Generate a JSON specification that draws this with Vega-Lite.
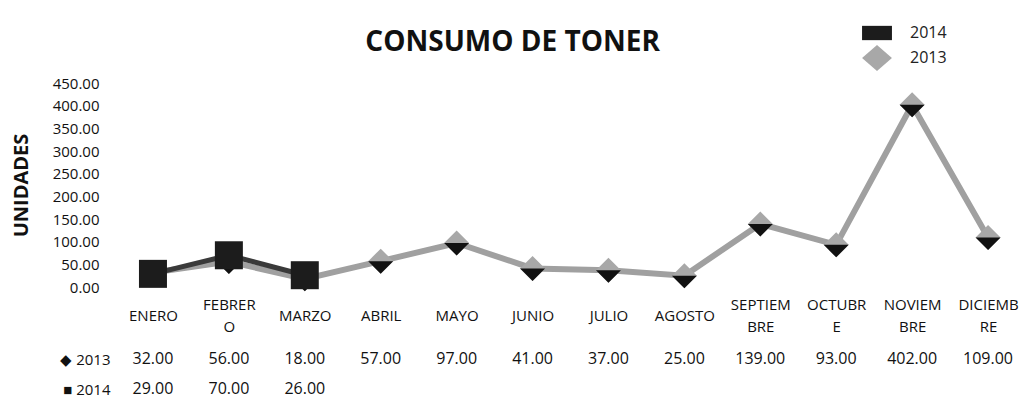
{
  "$schema": "https://vega.github.io/schema/vega-lite/v6.json",
  "background": "white",
  "padding": {"left": 11, "right": 2, "top": 20, "bottom": 0},
  "config": {
    "font": "Open Sans",
    "view": {"stroke": null},
    "axis": {"grid": false, "domain": false, "ticks": false, "labelColor": "#111", "titleColor": "#111"}
  },
  "title": {"text": "CONSUMO DE TONER", "fontSize": 28, "fontWeight": "bold", "color": "#111", "anchor": "middle", "offset": -37, "dx": -6},
  "datasets": {
    "d": [
      {"mes": "ENERO", "year": "2013", "value": 32},
      {"mes": "FEBRERO", "year": "2013", "value": 56},
      {"mes": "MARZO", "year": "2013", "value": 18},
      {"mes": "ABRIL", "year": "2013", "value": 57},
      {"mes": "MAYO", "year": "2013", "value": 97},
      {"mes": "JUNIO", "year": "2013", "value": 41},
      {"mes": "JULIO", "year": "2013", "value": 37},
      {"mes": "AGOSTO", "year": "2013", "value": 25},
      {"mes": "SEPTIEMBRE", "year": "2013", "value": 139},
      {"mes": "OCTUBRE", "year": "2013", "value": 93},
      {"mes": "NOVIEMBRE", "year": "2013", "value": 402},
      {"mes": "DICIEMBRE", "year": "2013", "value": 109},
      {"mes": "ENERO", "year": "2014", "value": 29},
      {"mes": "FEBRERO", "year": "2014", "value": 70},
      {"mes": "MARZO", "year": "2014", "value": 26}
    ]
  },
  "spacing": 10,
  "resolve": {"legend": {"color": "independent", "shape": "independent"}},
  "vconcat": [
    {
      "width": 911,
      "height": 204,
      "data": {"name": "d"},
      "encoding": {
        "x": {
          "field": "mes", "type": "nominal",
          "sort": ["ENERO","FEBRERO","MARZO","ABRIL","MAYO","JUNIO","JULIO","AGOSTO","SEPTIEMBRE","OCTUBRE","NOVIEMBRE","DICIEMBRE"],
          "axis": {
            "title": null, "labelAngle": 0, "labelBaseline": "middle", "labelLineHeight": 22, "labelFontSize": 15,
            "labelPadding": {"condition": {"test": "indexof(['FEBRERO','SEPTIEMBRE','OCTUBRE','NOVIEMBRE','DICIEMBRE'], datum.value) >= 0", "value": 17}, "value": 28},
            "labelExpr": "datum.value == 'FEBRERO' ? ['FEBRER','O'] : datum.value == 'SEPTIEMBRE' ? ['SEPTIEM','BRE'] : datum.value == 'OCTUBRE' ? ['OCTUBR','E'] : datum.value == 'NOVIEMBRE' ? ['NOVIEM','BRE'] : datum.value == 'DICIEMBRE' ? ['DICIEMB','RE'] : datum.value"
          }
        },
        "y": {
          "field": "value", "type": "quantitative",
          "scale": {"domain": [0, 450], "nice": false},
          "axis": {"title": "UNIDADES", "format": ".2f", "values": [0,50,100,150,200,250,300,350,400,450], "labelPadding": 16, "labelFontSize": 15, "titleFontSize": 20, "titleFontWeight": "bold", "titlePadding": 21}
        }
      },
      "layer": [
        {
          "transform": [{"filter": "datum.year == '2013'"}],
          "mark": {"type": "line", "color": "#a0a0a0", "strokeWidth": 6}
        },
        {
          "transform": [{"filter": "datum.year == '2014'"}],
          "mark": {"type": "line", "color": "#3a3a3a", "strokeWidth": 5}
        },
        {
          "transform": [{"filter": "datum.year == '2013'"}],
          "mark": {"type": "point", "filled": true, "opacity": 1, "shape": "diamond", "size": 625, "color": "#a8a8a8"}
        },
        {
          "transform": [{"filter": "datum.year == '2013'"}],
          "mark": {"type": "point", "filled": true, "opacity": 1, "shape": "M-1,0L1,0L0,1Z", "size": 625, "color": "#111"}
        },
        {
          "transform": [{"filter": "datum.year == '2014'"}],
          "mark": {"type": "point", "filled": true, "opacity": 1, "shape": "square", "size": 784, "color": "#1c1c1c"}
        },
        {
          "transform": [{"filter": "datum.year == 'none'"}],
          "mark": {"type": "point", "filled": true, "opacity": 1},
          "encoding": {
            "color": {
              "field": "year", "type": "nominal",
              "scale": {"domain": ["2014", "2013"], "range": ["#1c1c1c", "#a8a8a8"]},
              "legend": {"title": null, "orient": "none", "legendX": 749, "legendY": -63, "symbolSize": 676, "labelFontSize": 16, "labelOffset": 20, "padding": 0, "rowPadding": 4, "labelColor": "#222", "symbolStrokeWidth": 0}
            },
            "shape": {
              "field": "year", "type": "nominal",
              "scale": {"domain": ["2014", "2013"], "range": ["M-1.15,-0.55L1.15,-0.55L1.15,0.55L-1.15,0.55Z", "M-1.15,0L0,-1L1.15,0L0,1Z"]},
              "legend": {"title": null, "orient": "none", "legendX": 749, "legendY": -63, "symbolSize": 676, "labelFontSize": 16, "labelOffset": 20, "padding": 0, "rowPadding": 4, "labelColor": "#222", "symbolStrokeWidth": 0}
            }
          }
        }
      ]
    },
    {
      "width": 911,
      "height": 60,
      "data": {"name": "d"},
      "mark": {"type": "text", "fontSize": 16, "color": "#111", "baseline": "middle"},
      "encoding": {
        "x": {
          "field": "mes", "type": "nominal",
          "sort": ["ENERO","FEBRERO","MARZO","ABRIL","MAYO","JUNIO","JULIO","AGOSTO","SEPTIEMBRE","OCTUBRE","NOVIEMBRE","DICIEMBRE"],
          "axis": null
        },
        "y": {
          "field": "year", "type": "nominal", "sort": ["2013", "2014"],
          "axis": {"title": null, "labelFontSize": 15, "labelPadding": 5, "labelExpr": "datum.value == '2013' ? '◆ 2013' : '■ 2014'"}
        },
        "text": {"field": "value", "type": "quantitative", "format": ".2f"}
      }
    }
  ]
}
